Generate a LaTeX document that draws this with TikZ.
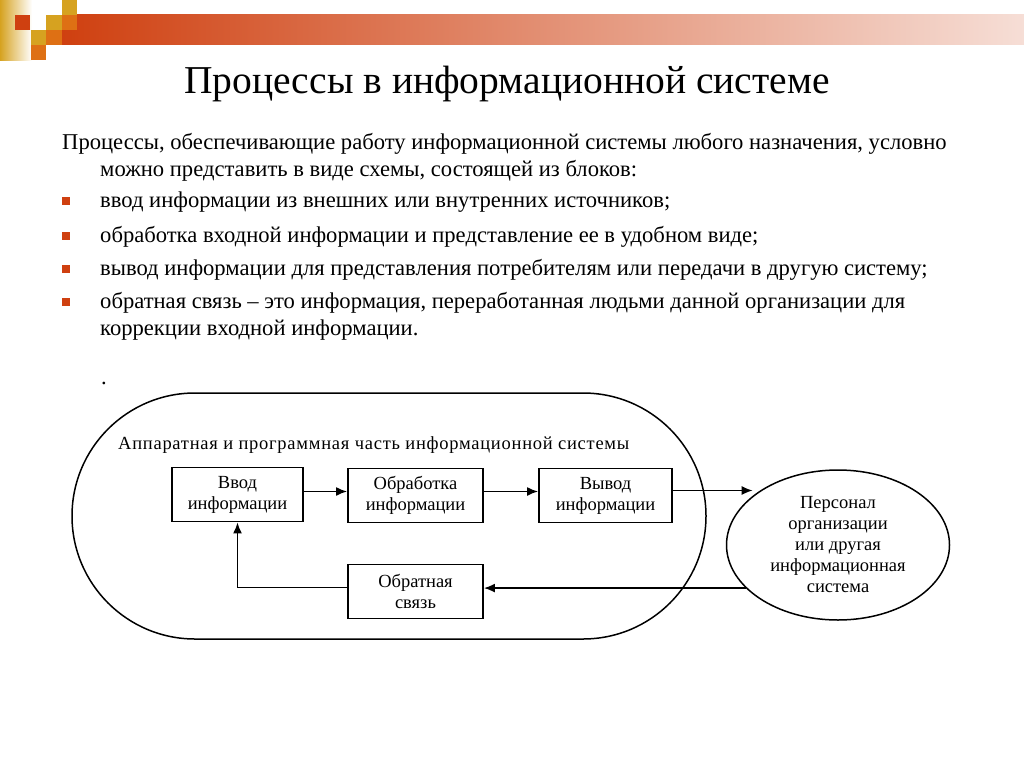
\documentclass[tikz,border=0pt]{standalone}
\usepackage{fontspec}
\setmainfont{Liberation Serif}
\newfontfamily\labelfont{Liberation Serif}[LetterSpace=4]
\usetikzlibrary{arrows.meta,shapes.geometric}

\definecolor{barred}{RGB}{207,64,16}
\definecolor{barpale}{RGB}{246,222,214}
\definecolor{gold}{RGB}{214,162,32}
\definecolor{orng}{RGB}{222,112,20}
\newcommand\diagsize{\fontsize{18.5}{21}\selectfont}
\newcommand\bodysize{\fontsize{22.6}{26}\selectfont}

\begin{document}
\begin{tikzpicture}[x=1pt,y=-1pt,
  block/.style={draw,line width=1.8pt,minimum width=133pt,minimum height=54pt,
    align=center,inner sep=0pt,font=\diagsize},
  flow/.style={-{Latex[length=11pt,width=9pt]},line width=1.7pt},
  bodytext/.style={anchor=base west,inner sep=0pt,font=\bodysize}]
  \useasboundingbox (0,0) rectangle (1024,768);

  % top decoration
  \shade[left color=gold,right color=white] (0,0) rectangle (32,60);
  \fill[barred] (15,15) rectangle (30,30);
  \shade[left color=barred,right color=barpale] (62,15) rectangle (1024,45);
  \fill[gold] (62,0) rectangle (77,15);
  \fill[gold] (46,15) rectangle (62,30);
  \fill[orng] (62,15) rectangle (77,30);
  \fill[gold] (31,30) rectangle (46,45);
  \fill[orng] (46,30) rectangle (62,45);
  \fill[orng] (31,45) rectangle (46,60);

  % title and text
  \node[anchor=base,inner sep=0pt,font=\fontsize{39.5}{44}\selectfont] (title) at (507,93)
    {Процессы в информационной системе};

  \node[bodytext] (intro1) at (62,149) {Процессы, обеспечивающие работу информационной системы любого назначения, условно};
  \node[bodytext] (intro2) at (100,176) {можно представить в виде схемы, состоящей из блоков:};
  \node[bodytext] (item1) at (100,207) {ввод информации из внешних или внутренних источников;};
  \node[bodytext] (item2) at (100,242) {обработка входной информации и представление ее в удобном виде;};
  \node[bodytext] (item3) at (100,275) {вывод информации для представления потребителям или передачи в другую систему;};
  \node[bodytext] (item4) at (100,308) {обратная связь -- это информация, переработанная людьми данной организации для};
  \node[bodytext] (item4b) at (100,335) {коррекции входной информации.};
  \node[bodytext] (dot) at (101,384) {.};

  \fill[barred] (62,197) rectangle (70,205);
  \fill[barred] (62,232) rectangle (70,240);
  \fill[barred] (62,265) rectangle (70,273);
  \fill[barred] (62,298) rectangle (70,306);

  % diagram
  \draw[line width=1.5pt,rounded corners=123pt] (72,393) rectangle (706,639);
  \node[anchor=west,inner sep=0pt,font=\labelfont\diagsize] (hw) at (118,445)
    {Аппаратная и программная часть информационной системы};

  \node[block,minimum width=131pt] (vvod) at (237.5,494.5) {Ввод\\информации};
  \node[block,minimum width=135pt] (obrab) at (415.5,495.5) {Обработка\\информации};
  \node[block] (vyvod) at (605.5,495.5) {Вывод\\информации};
  \node[block,minimum width=135pt] (obrsv) at (415.5,591.5) {Обратная\\связь};
  \node[ellipse,draw,line width=1.5pt,minimum width=223pt,minimum height=150pt,
    inner sep=0pt,align=center,font=\diagsize] (pers) at (838,545)
    {Персонал\\организации\\или другая\\информационная\\система};

  \draw[flow] ([yshift=3pt]vvod.east) -- ([yshift=3pt]vvod.east -| obrab.west);
  \draw[flow] ([yshift=4pt]obrab.east) -- ([yshift=4pt]obrab.east -| vyvod.west);
  \draw[flow] ([yshift=5pt]vyvod.east) -- ([yshift=5pt]vyvod.east -| pers.150);
  \draw[flow] (pers.205) -- (obrsv.east |- pers.205);
  \draw[flow] ([yshift=4pt]obrsv.west) -| (vvod.south);
\end{tikzpicture}
\end{document}
